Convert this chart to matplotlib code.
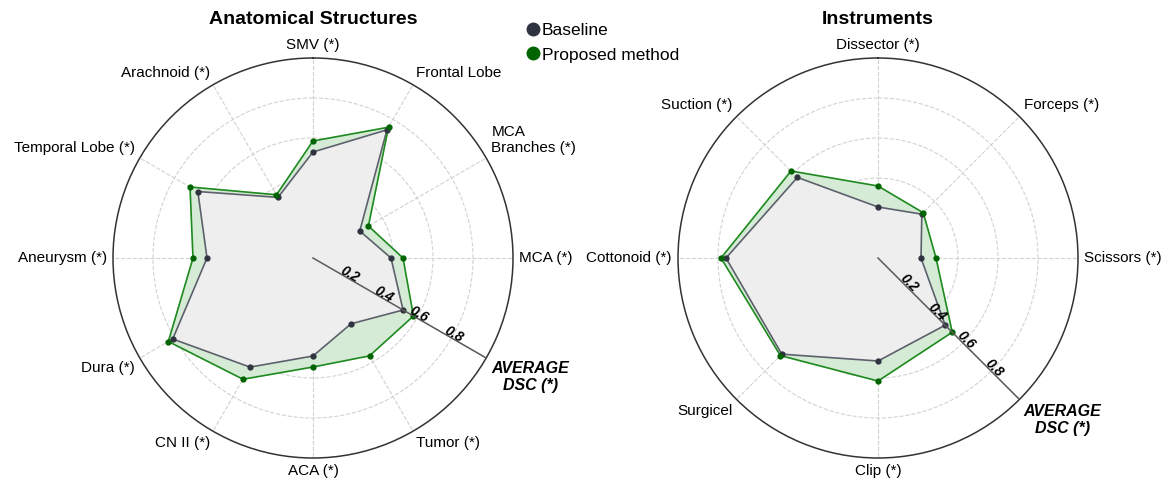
import numpy as np
import matplotlib.pyplot as plt
from matplotlib.lines import Line2D

plt.rcParams['font.family'] = ['Liberation Sans', 'DejaVu Sans']

# Dice scores, clockwise from the top
anat_labels = ["SMV (*)", "Frontal Lobe", "MCA\nBranches (*)", "MCA (*)", "AVERAGE\nDSC (*)",
               "Tumor (*)", "ACA (*)", "CN II (*)", "Dura (*)", "Aneurysm (*)",
               "Temporal Lobe (*)", "Arachnoid (*)"]
anat_base = [0.53, 0.74, 0.27, 0.39, 0.52, 0.38, 0.49, 0.63, 0.81, 0.53, 0.665, 0.35]
anat_prop = [0.585, 0.755, 0.32, 0.45, 0.58, 0.565, 0.545, 0.70, 0.835, 0.60, 0.71, 0.365]

inst_labels = ["Dissector (*)", "Forceps (*)", "Scissors (*)", "AVERAGE\nDSC (*)",
               "Clip (*)", "Surgicel", "Cottonoid (*)", "Suction (*)"]
inst_base = [0.255, 0.31, 0.215, 0.475, 0.515, 0.68, 0.76, 0.57]
inst_prop = [0.36, 0.32, 0.29, 0.525, 0.615, 0.69, 0.785, 0.615]

r_ticks = [0.2, 0.4, 0.6, 0.8]
r_tick_labels = ["0.2", "0.4", "0.6", "0.8"]

green_line = '#1f8a1f'
green_dot = '#006400'
green_fill = '#d6ebd6'
base_line = '#5b606b'
base_dot = '#2f3340'
base_fill = '#efeeef'


def radar(ax, labels, base, prop, title):
    n = len(labels)
    theta = np.arange(n) * 2 * np.pi / n
    ax.set_theta_offset(np.pi / 2)
    ax.set_theta_direction(-1)
    ax.set_ylim(0, 1)

    t = np.append(theta, theta[0])
    p = np.append(prop, prop[0])
    b = np.append(base, base[0])
    ax.fill(t, p, color=green_fill, zorder=2)
    ax.fill(t, b, color=base_fill, zorder=3)
    ax.plot(t, b, color=base_line, lw=1.2, zorder=4)
    ax.plot(t, p, color=green_line, lw=1.2, zorder=5)
    ax.plot(theta, base, 'o', color=base_dot, ms=3.5, zorder=6)
    ax.plot(theta, prop, 'o', color=green_dot, ms=3.5, zorder=7)

    ax.set_xticks(theta)
    ax.set_xticklabels([])
    ax.set_yticks(r_ticks)
    ax.set_yticklabels([])
    ax.grid(True, color='#d2d2d2', ls='--', lw=0.8)
    ax.set_axisbelow(True)
    ax.spines['polar'].set_color('#333333')
    ax.spines['polar'].set_linewidth(1.1)
    ax.set_facecolor('white')

    # solid spoke for the average axis, with the radial scale along it
    avg = labels.index("AVERAGE\nDSC (*)")
    ta = theta[avg]
    ax.plot([ta, ta], [0, 1], color='#5a5a5a', lw=1.1, zorder=8)
    rot = np.degrees(np.pi / 2 - ta)
    for r, s in zip(r_ticks, r_tick_labels):
        ax.text(ta, r, s, rotation=rot, rotation_mode='anchor', ha='center', va='baseline',
                fontsize=10, fontweight='bold', fontstyle='italic', zorder=9)

    for th, lab in zip(theta, labels):
        a = np.pi / 2 - th
        c, s = np.cos(a), np.sin(a)
        ha = 'left' if c > 0.1 else ('right' if c < -0.1 else 'center')
        va = 'bottom' if s > 0.1 else ('top' if s < -0.1 else 'center')
        kw = dict(fontsize=11)
        if lab.startswith("AVERAGE"):
            kw.update(fontsize=11.5, fontweight='bold', fontstyle='italic',
                      multialignment='center')
        elif "\n" in lab:
            kw.update(multialignment='left')
        ax.text(th, 1.03, lab, ha=ha, va=va, **kw)

    ax.text(0.5, 1.095, title, transform=ax.transAxes, ha='center', va='center',
            fontsize=14, fontweight='bold')


fig = plt.figure(figsize=(11.64, 4.78), dpi=100)
ax1 = fig.add_axes([113 / 1164, 20 / 478, 400 / 1164, 400 / 478], projection='polar')
ax2 = fig.add_axes([678 / 1164, 20 / 478, 400 / 1164, 400 / 478], projection='polar')

radar(ax1, anat_labels, anat_base, anat_prop, "Anatomical Structures")
radar(ax2, inst_labels, inst_base, inst_prop, "Instruments")

handles = [Line2D([], [], ls='', marker='o', ms=9, color=base_dot),
           Line2D([], [], ls='', marker='o', ms=9, color=green_dot)]
fig.legend(handles, ["Baseline", "Proposed method"], loc='upper left',
           bbox_to_anchor=(519 / 1164, 1 - 14 / 478), frameon=False, fontsize=12.5,
           handlelength=0.6, handletextpad=0.2, labelspacing=0.55, borderpad=0)

fig.savefig('out.png', dpi=100)
